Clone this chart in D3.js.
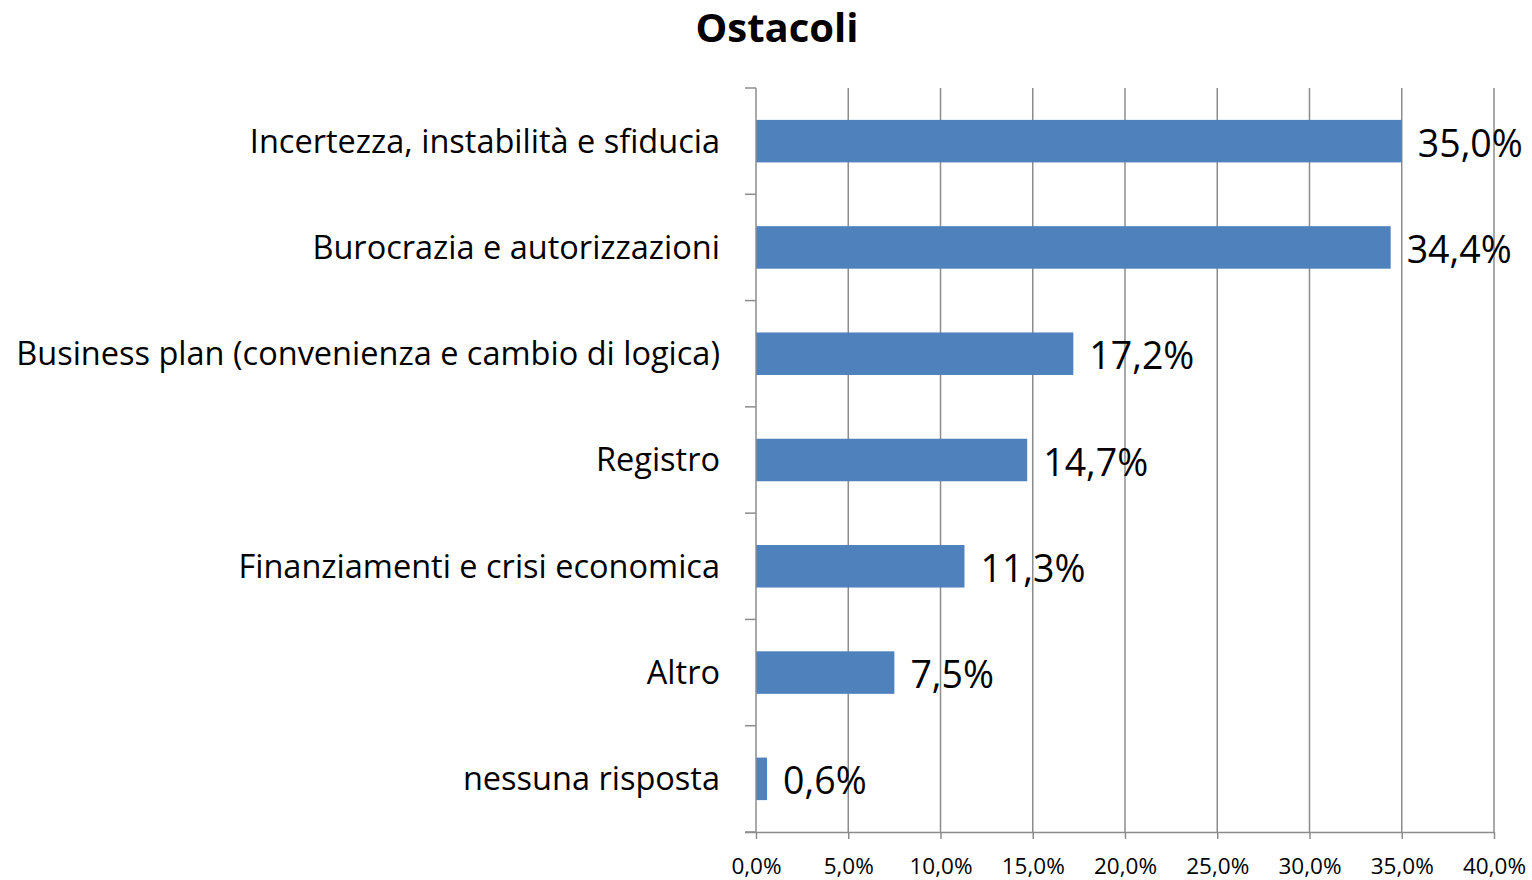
<!DOCTYPE html>
<html>
<head>
<meta charset="utf-8">
<script src="https://cdn.jsdelivr.net/npm/d3@7"></script>
<style>
  body { margin: 0; background: #fff; }
  text { font-family: "Open Sans", "Noto Sans", sans-serif; fill: #000; }
</style>
</head>
<body>
<svg id="chart" width="1532" height="880"></svg>
<script>
const categories = [
  "Incertezza, instabilità e sfiducia",
  "Burocrazia e autorizzazioni",
  "Business plan (convenienza e cambio di logica)",
  "Registro",
  "Finanziamenti e crisi economica",
  "Altro",
  "nessuna risposta"
];
const values = [35.0, 34.4, 17.2, 14.7, 11.3, 7.5, 0.6];
const xTicks = [0, 5, 10, 15, 20, 25, 30, 35, 40];

const data = categories.map((c, i) => ({ cat: c, val: values[i] }));

const svg = d3.select("#chart");
const fmt = v => v.toFixed(1).replace(".", ",") + "%";

const x = d3.scaleLinear().domain([0, 40]).range([756, 1494]);
const y = d3.scaleBand()
  .domain(categories)
  .range([88, 832])
  .paddingInner(0.6)
  .paddingOuter(0.3);

const gridColor = "#8c8c8c";

// vertical gridlines
svg.append("g")
  .selectAll("line")
  .data(xTicks.slice(1))
  .enter()
  .append("line")
  .attr("x1", d => x(d)).attr("x2", d => x(d))
  .attr("y1", 88).attr("y2", 832)
  .attr("stroke", gridColor)
  .attr("stroke-width", 1.5);

// bars
svg.append("g")
  .selectAll("rect")
  .data(data)
  .enter()
  .append("rect")
  .attr("x", x(0))
  .attr("y", d => y(d.cat))
  .attr("width", d => x(d.val) - x(0))
  .attr("height", y.bandwidth())
  .attr("fill", "#4f81bd");

// x axis
const xAxis = d3.axisBottom(x)
  .tickValues(xTicks)
  .tickSize(7)
  .tickPadding(19)
  .tickFormat(fmt);
const xg = svg.append("g")
  .attr("transform", "translate(0,832)")
  .call(xAxis);
xg.select(".domain").attr("stroke", gridColor).attr("stroke-width", 1.5)
  .attr("d", `M745,0.5H${x(40)}`);
xg.selectAll(".tick line").attr("stroke", gridColor).attr("stroke-width", 1.5);
xg.selectAll(".tick text")
  .style("font-family", "Open Sans, sans-serif")
  .style("font-size", "22.5px")
  .attr("fill", "#000");

// y axis: ticks on band boundaries
const step = y.step();
const bounds = d3.range(categories.length + 1).map(i => 88 + i * step);
const yg = svg.append("g");
yg.append("line")
  .attr("x1", x(0)).attr("x2", x(0))
  .attr("y1", 88).attr("y2", 832)
  .attr("stroke", gridColor).attr("stroke-width", 1.5);
yg.selectAll(".yt")
  .data(bounds)
  .enter()
  .append("line")
  .attr("x1", 745).attr("x2", x(0))
  .attr("y1", d => d).attr("y2", d => d)
  .attr("stroke", gridColor).attr("stroke-width", 1.5);

// category labels
svg.append("g")
  .selectAll("text")
  .data(data)
  .enter()
  .append("text")
  .attr("x", 720)
  .attr("y", d => y(d.cat) + y.bandwidth() / 2)
  .attr("dy", "0.35em")
  .attr("text-anchor", "end")
  .style("font-size", "32.5px")
  .text(d => d.cat);

// value labels
svg.append("g")
  .selectAll("text")
  .data(data)
  .enter()
  .append("text")
  .attr("x", d => x(d.val) + 16)
  .attr("y", d => y(d.cat) + y.bandwidth() / 2 + 2)
  .attr("dy", "0.36em")
  .style("font-size", "37.5px")
  .text(d => fmt(d.val));

// title
svg.append("text")
  .attr("x", 777)
  .attr("y", 42)
  .attr("text-anchor", "middle")
  .style("font-size", "40px")
  .style("font-weight", "bold")
  .text("Ostacoli");
</script>
</body>
</html>
